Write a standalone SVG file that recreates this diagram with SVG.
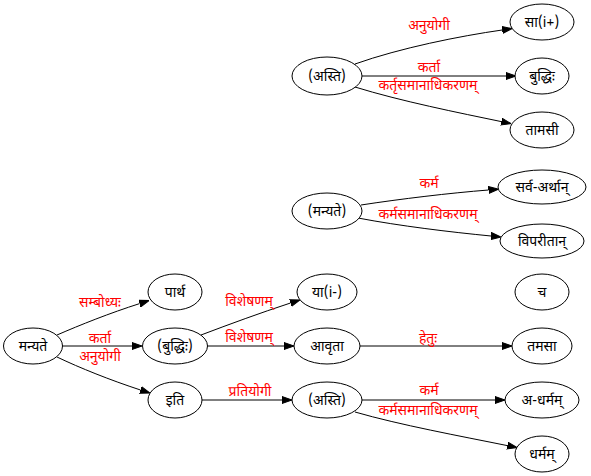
<svg xmlns="http://www.w3.org/2000/svg" width="591" height="476" viewBox="0 0 591 476">
<style>
.n ellipse{fill:#fff;stroke:#000;stroke-width:1}
.n text{font-family:"Noto Sans Devanagari","Noto Sans","DejaVu Sans",sans-serif;font-size:14px;fill:#000;text-anchor:middle}
.e path{fill:none;stroke:#000;stroke-width:1}
.l{font-family:"Noto Sans Devanagari","Noto Sans","DejaVu Sans",sans-serif;font-size:14px;fill:#ff0000;text-anchor:middle}
</style>
<defs>
<marker id="arr" viewBox="0 -4 10 8" markerWidth="10" markerHeight="8" refX="0" refY="0" orient="auto" markerUnits="userSpaceOnUse">
<path d="M0,-3.5L10,0L0,3.5z" fill="#000" stroke="#000" stroke-width="1"/>
</marker>
</defs>
<rect width="591" height="476" fill="#fff"/>
<g id="edges" class="e">
<path marker-end="url(#arr)" d="M57,335 C80,325 110,313 139.6,303.6"/>
<path marker-end="url(#arr)" d="M62,346 L132,346"/>
<path marker-end="url(#arr)" d="M57,357 C80,368 110,380 140.5,390"/>
<path marker-end="url(#arr)" d="M201,335 C230,324 260,313 290.5,303"/>
<path marker-end="url(#arr)" d="M207,346 L284,346"/>
<path marker-end="url(#arr)" d="M360,346 L502,346"/>
<path marker-end="url(#arr)" d="M202,400 L282,400"/>
<path marker-end="url(#arr)" d="M362,400 L495,400"/>
<path marker-end="url(#arr)" d="M355,412 C400,425 460,436 507.3,445.6"/>
<path marker-end="url(#arr)" d="M355,64 C400,48 460,36 502.2,30"/>
<path marker-end="url(#arr)" d="M362,76 L506,76"/>
<path marker-end="url(#arr)" d="M355,87 C400,101 460,113 501.3,121.6"/>
<path marker-end="url(#arr)" d="M361,205 C400,199 450,193 488.5,190"/>
<path marker-end="url(#arr)" d="M358,218 C400,226 450,232 491,236"/>
</g>
<g id="labels">
<text class="l" x="100" y="307">सम्बोध्यः</text>
<text class="l" x="100" y="343">कर्ता</text>
<text class="l" x="100" y="361">अनुयोगी</text>
<text class="l" x="249" y="306">विशेषणम्</text>
<text class="l" x="249" y="342">विशेषणम्</text>
<text class="l" x="250" y="396">प्रतियोगी</text>
<text class="l" x="428" y="343">हेतुः</text>
<text class="l" x="429" y="395">कर्म</text>
<text class="l" x="428" y="415">कर्मसमानाधिकरणम्</text>
<text class="l" x="429" y="30">अनुयोगी</text>
<text class="l" x="429" y="72">कर्ता</text>
<text class="l" x="428" y="90">कर्तृसमानाधिकरणम्</text>
<text class="l" x="429" y="188">कर्म</text>
<text class="l" x="428" y="219">कर्मसमानाधिकरणम्</text>
</g>
<g id="n_manyate" class="n"><ellipse cx="33" cy="346" rx="29.5" ry="18"/><text x="33" y="351">मन्यते</text></g>
<g id="n_partha" class="n"><ellipse cx="175" cy="292" rx="27" ry="18"/><text x="175" y="297">पार्थ</text></g>
<g id="n_buddhih1" class="n"><ellipse cx="175" cy="346" rx="32.5" ry="18"/><text x="175" y="351">(बुद्धिः)</text></g>
<g id="n_iti" class="n"><ellipse cx="175" cy="400" rx="27" ry="18"/><text x="175" y="405">इति</text></g>
<g id="n_ya" class="n"><ellipse cx="327" cy="292" rx="30" ry="18"/><text x="327" y="297">या(i-)</text></g>
<g id="n_avrta" class="n"><ellipse cx="327" cy="346" rx="33" ry="18"/><text x="327" y="351">आवृता</text></g>
<g id="n_asti2" class="n"><ellipse cx="327" cy="400" rx="35" ry="18"/><text x="327" y="405">(अस्ति)</text></g>
<g id="n_ca" class="n"><ellipse cx="542" cy="292" rx="27" ry="18"/><text x="542" y="297">च</text></g>
<g id="n_tamasa" class="n"><ellipse cx="542" cy="346" rx="30" ry="18"/><text x="542" y="351">तमसा</text></g>
<g id="n_adharmam" class="n"><ellipse cx="542" cy="400" rx="37" ry="18"/><text x="542" y="405">अ-धर्मम्</text></g>
<g id="n_dharmam" class="n"><ellipse cx="542" cy="454" rx="27" ry="18"/><text x="542" y="459">धर्मम्</text></g>
<g id="n_asti1" class="n"><ellipse cx="327" cy="76" rx="35" ry="19"/><text x="327" y="81">(अस्ति)</text></g>
<g id="n_sa" class="n"><ellipse cx="542" cy="22" rx="32" ry="18"/><text x="542" y="27">सा(i+)</text></g>
<g id="n_buddhih2" class="n"><ellipse cx="542" cy="76" rx="27" ry="18"/><text x="542" y="81">बुद्धिः</text></g>
<g id="n_tamasi" class="n"><ellipse cx="542" cy="130" rx="32" ry="18"/><text x="542" y="135">तामसी</text></g>
<g id="n_manyate2" class="n"><ellipse cx="327" cy="211" rx="35" ry="18"/><text x="327" y="216">(मन्यते)</text></g>
<g id="n_sarva" class="n"><ellipse cx="542" cy="187" rx="44" ry="17"/><text x="542" y="192">सर्व-अर्थान्</text></g>
<g id="n_viparitan" class="n"><ellipse cx="542" cy="241" rx="42" ry="17"/><text x="542" y="246">विपरीतान्</text></g>
</svg>
